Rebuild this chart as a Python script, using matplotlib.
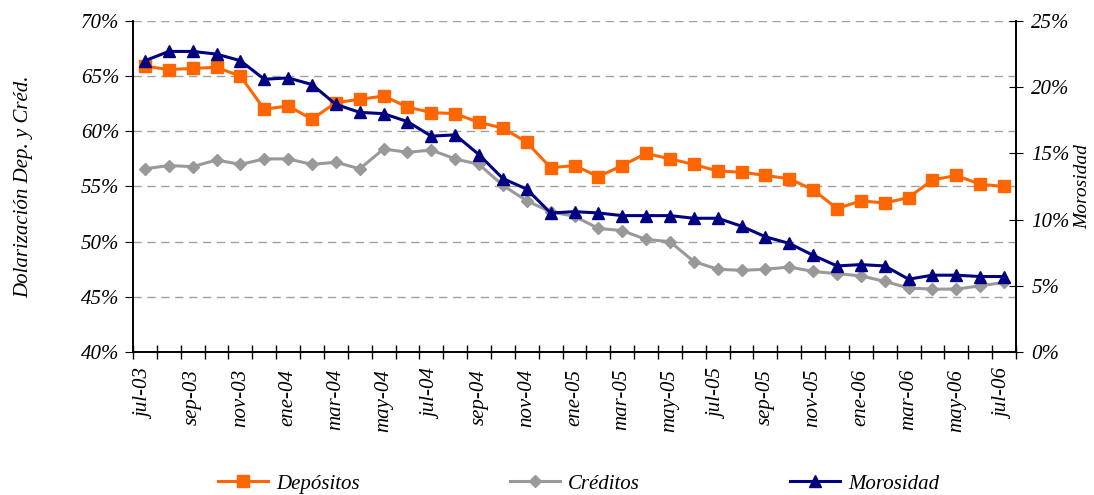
import numpy as np
import matplotlib
matplotlib.use('Agg')
import matplotlib.pyplot as plt
from matplotlib.ticker import FuncFormatter, MultipleLocator, FixedLocator

# Datos mensuales jul-03 a jul-06
meses = ['jul-03', 'ago-03', 'sep-03', 'oct-03', 'nov-03', 'dic-03',
         'ene-04', 'feb-04', 'mar-04', 'abr-04', 'may-04', 'jun-04',
         'jul-04', 'ago-04', 'sep-04', 'oct-04', 'nov-04', 'dic-04',
         'ene-05', 'feb-05', 'mar-05', 'abr-05', 'may-05', 'jun-05',
         'jul-05', 'ago-05', 'sep-05', 'oct-05', 'nov-05', 'dic-05',
         'ene-06', 'feb-06', 'mar-06', 'abr-06', 'may-06', 'jun-06',
         'jul-06']

depositos = [65.9, 65.6, 65.7, 65.8, 65.0, 62.0, 62.3, 61.1, 62.6, 62.9,
             63.2, 62.2, 61.7, 61.6, 60.8, 60.3, 59.0, 56.7, 56.9, 55.9,
             56.9, 58.0, 57.5, 57.0, 56.4, 56.3, 56.0, 55.7, 54.7, 53.0,
             53.7, 53.5, 54.0, 55.6, 56.0, 55.2, 55.0]

creditos = [56.6, 56.9, 56.8, 57.4, 57.0, 57.5, 57.5, 57.0, 57.2, 56.6,
            58.4, 58.1, 58.3, 57.5, 57.0, 55.1, 53.7, 52.7, 52.3, 51.2,
            51.0, 50.2, 50.0, 48.2, 47.5, 47.4, 47.5, 47.7, 47.3, 47.1,
            46.9, 46.4, 45.8, 45.7, 45.7, 46.0, 46.3]

morosidad = [22.0, 22.7, 22.7, 22.5, 22.0, 20.6, 20.7, 20.2, 18.7, 18.1,
             18.0, 17.4, 16.3, 16.4, 14.9, 13.1, 12.3, 10.5, 10.6, 10.5,
             10.3, 10.3, 10.3, 10.1, 10.1, 9.5, 8.7, 8.2, 7.3, 6.5,
             6.6, 6.5, 5.5, 5.8, 5.8, 5.7, 5.7]

fuente = 'Liberation Serif'
plt.rcParams['font.family'] = fuente
plt.rcParams['font.style'] = 'italic'

fig = plt.figure(figsize=(10.94, 4.95), dpi=100)
ax = fig.add_axes([0.1216, 0.2889, 0.8071, 0.6687])
ax2 = ax.twinx()

x = np.arange(len(meses))
l1, = ax.plot(x, depositos, color='#FF6600', lw=2.2, marker='s', ms=8, label='Depósitos')
l2, = ax.plot(x, creditos, color='#999999', lw=2.2, marker='D', ms=6, label='Créditos')
l3, = ax2.plot(x, morosidad, color='#000080', lw=2.2, marker='^', ms=9, label='Morosidad')

ax.set_xlim(-0.5, len(meses) - 0.5)
ax.set_ylim(40, 70)
ax2.set_ylim(0, 25)

ax.yaxis.set_major_locator(MultipleLocator(5))
ax2.yaxis.set_major_locator(MultipleLocator(5))
ax.yaxis.set_major_formatter(FuncFormatter(lambda v, p: f'{v:.0f}%'))
ax2.yaxis.set_major_formatter(FuncFormatter(lambda v, p: f'{v:.0f}%'))

ax.grid(axis='y', color='#a0a0a0', ls=(0, (6, 4)), lw=1)
ax.set_axisbelow(True)

# ticks del eje x entre categorias, etiquetas cada dos meses
ax.xaxis.set_major_locator(FixedLocator(x[::2]))
ax.set_xticklabels(meses[::2], rotation=90, fontsize=15)
ax.xaxis.set_minor_locator(FixedLocator(np.arange(-0.5, len(meses), 1)))
ax.tick_params(axis='x', which='major', length=0, pad=12)
ax.tick_params(axis='x', which='minor', direction='inout', length=10, width=1)
ax.tick_params(axis='y', direction='out', length=6, labelsize=15, pad=4)
ax2.tick_params(axis='y', direction='inout', length=10, labelsize=15, pad=6)

for a in (ax, ax2):
    a.spines['top'].set_visible(False)
    for s in ('left', 'right', 'bottom'):
        a.spines[s].set_linewidth(1.2)

ax.set_ylabel('Dolarización Dep. y Créd.', fontsize=15, labelpad=34)
ax2.set_ylabel('Morosidad', fontsize=14, labelpad=3)

fig.legend(handles=[l1, l2, l3], loc='lower center', bbox_to_anchor=(0.529, -0.035),
           ncol=3, frameon=False, fontsize=15, handlelength=2.4,
           columnspacing=7.2, handletextpad=0.4)

fig.savefig('out.png', dpi=100)
